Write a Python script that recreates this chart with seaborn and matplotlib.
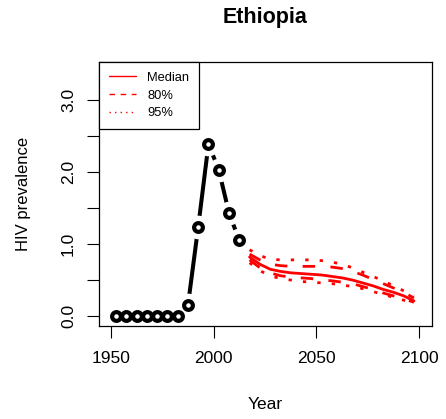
import matplotlib
matplotlib.use("Agg")
import matplotlib.pyplot as plt
from matplotlib.lines import Line2D
import seaborn as sns
import pandas as pd

# Observed data (5-year midpoints)
obs_years = [1952.5, 1957.5, 1962.5, 1967.5, 1972.5, 1977.5, 1982.5,
             1987.5, 1992.5, 1997.5, 2002.5, 2007.5, 2012.5]
obs_values = [0.0, 0.0, 0.0, 0.0, 0.0, 0.0, 0.0,
              0.15, 1.24, 2.39, 2.03, 1.43, 1.05]

# Projections
proj_years = [2017.5, 2022.5, 2027.5, 2032.5, 2037.5, 2042.5, 2047.5, 2052.5,
              2057.5, 2062.5, 2067.5, 2072.5, 2077.5, 2082.5, 2087.5, 2092.5, 2097.5]
median = [0.82, 0.72, 0.65, 0.62, 0.60, 0.59, 0.58, 0.57,
          0.55, 0.53, 0.50, 0.46, 0.42, 0.37, 0.33, 0.28, 0.21]
upper80 = [0.86, 0.78, 0.72, 0.70, 0.69, 0.69, 0.69, 0.69,
           0.68, 0.66, 0.62, 0.57, 0.51, 0.45, 0.39, 0.33, 0.25]
lower80 = [0.78, 0.67, 0.60, 0.56, 0.54, 0.53, 0.52, 0.50,
           0.49, 0.47, 0.45, 0.41, 0.37, 0.32, 0.28, 0.24, 0.19]
upper95 = [0.92, 0.84, 0.79, 0.78, 0.78, 0.78, 0.78, 0.77,
           0.75, 0.72, 0.67, 0.61, 0.55, 0.49, 0.42, 0.35, 0.28]
lower95 = [0.74, 0.63, 0.56, 0.52, 0.50, 0.48, 0.47, 0.46,
           0.45, 0.43, 0.41, 0.38, 0.34, 0.30, 0.26, 0.22, 0.17]

x_ticks = [1950, 2000, 2050, 2100]
y_ticks = [0.0, 0.5, 1.0, 1.5, 2.0, 2.5, 3.0]
y_tick_labels = ["0.0", "", "1.0", "", "2.0", "", "3.0"]
legend_labels = ["Median", "80%", "95%"]

sns.set_style("ticks")
plt.rcParams["font.family"] = ["Liberation Sans", "DejaVu Sans"]
plt.rcParams["text.color"] = "black"
plt.rcParams["axes.labelcolor"] = "black"
plt.rcParams["xtick.color"] = "black"
plt.rcParams["ytick.color"] = "black"

fig = plt.figure(figsize=(4.46, 4.19), dpi=100)
ax = fig.add_axes([99 / 446, 1 - 326 / 419, (432 - 99) / 446, (326 - 62) / 419])

obs_df = pd.DataFrame({"year": obs_years, "value": obs_values})
sns.lineplot(data=obs_df, x="year", y="value", ax=ax, color="black", lw=2.9,
             zorder=1, estimator=None)
# gaps around points (R type="b")
ax.plot(obs_df["year"], obs_df["value"], ls="none", marker="o", ms=17,
        mfc="white", mec="white", mew=0, zorder=2.2)
ax.plot(obs_df["year"], obs_df["value"], ls="none", marker="o", ms=6.3,
        mfc="white", mec="black", mew=3.0, zorder=3)

red = "#FF0000"
dash80 = (0, (4.5, 5.5))
dot95 = (0, (1.2, 4.0))
styles = [(median, "-", 2.0), (upper80, dash80, 2.0), (lower80, dash80, 2.0),
          (upper95, dot95, 2.0), (lower95, dot95, 2.0)]
for vals, ls, lw in styles:
    d = pd.DataFrame({"year": proj_years, "value": vals})
    sns.lineplot(data=d, x="year", y="value", ax=ax, color=red, lw=lw,
                 linestyle=ls, estimator=None)

ax.set_xlim(1944.2, 2106.3)
ax.set_ylim(-0.139, 3.53)
ax.set_xticks(x_ticks)
ax.set_xticklabels([str(t) for t in x_ticks])
ax.set_yticks(y_ticks)
ax.set_yticklabels(y_tick_labels, rotation=90, va="center")
ax.tick_params(axis="both", direction="out", length=8.5, width=0.8,
               labelsize=12.5)
ax.tick_params(axis="x", pad=9.5)
ax.tick_params(axis="y", pad=8)
for s in ax.spines.values():
    s.set_color("black")
    s.set_linewidth(0.9)

ax.set_xlabel("Year", fontsize=12.5, labelpad=22)
ax.set_ylabel("HIV prevalence", fontsize=12, labelpad=22)
ax.set_title("Ethiopia", fontsize=15.5, fontweight="bold", pad=28)

handles = [Line2D([], [], color=red, lw=1, ls="-"),
           Line2D([], [], color=red, lw=1, ls=(0, (4, 4))),
           Line2D([], [], color=red, lw=1, ls=(0, (1, 3)))]
leg = ax.legend(handles, legend_labels, loc="upper left", bbox_to_anchor=(0, 1),
                borderaxespad=0, fancybox=False, framealpha=1, edgecolor="black",
                fontsize=9.3, handlelength=2.1, handletextpad=0.9,
                labelspacing=0.45, borderpad=0.75)
leg.get_frame().set_linewidth(0.9)
leg.set_zorder(5)

fig.savefig("out.png", dpi=100)
